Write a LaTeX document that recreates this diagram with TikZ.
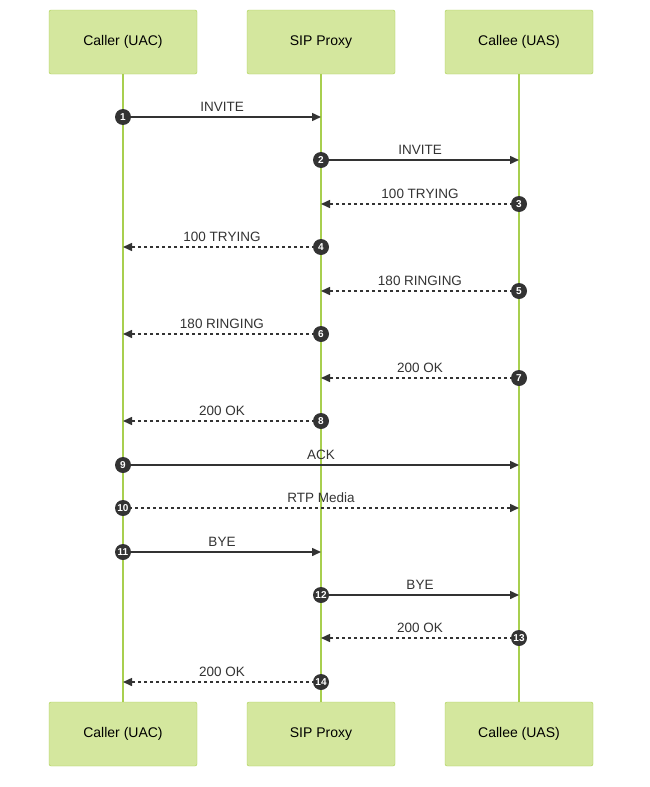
\documentclass[tikz,border=0pt]{standalone}
\usepackage{fontspec}
\setmainfont{Liberation Sans}
\usetikzlibrary{arrows.meta,positioning}
\definecolor{actfill}{HTML}{D4E79E}
\definecolor{actline}{HTML}{A8CF4F}
\definecolor{msgline}{HTML}{333333}
\begin{document}
\begin{tikzpicture}[x=1pt,y=-1pt]
	\tikzstyle{actor} = [rectangle,rounded corners=2pt,draw=actline,fill=actfill,minimum width=148pt,minimum height=64pt,font=\fontsize{14}{16}\selectfont]
	\tikzstyle{life}  = [draw=actline,line width=2pt]
	\tikzstyle{msg}   = [draw=msgline,line width=1.5pt,-{Triangle[length=9pt,width=8pt]}]
	\tikzstyle{rsp}   = [msg,dash pattern=on 3pt off 3pt]
	\tikzstyle{num}   = [circle,fill=msgline,text=white,inner sep=0pt,minimum size=16pt,font=\fontsize{10}{11}\selectfont\bfseries]
	\tikzstyle{lbl}   = [font=\fontsize{13.5}{15}\selectfont,text=msgline]

	\useasboundingbox (0,0) rectangle (650,787);

	\node[actor] (a1) at (123,42) {Caller (UAC)};
	\node[actor] (a2) at (321,42) {SIP Proxy};
	\node[actor] (a3) at (519,42) {Callee (UAS)};
	\node[actor] (b1) at (123,734) {Caller (UAC)};
	\node[actor] (b2) at (321,734) {SIP Proxy};
	\node[actor] (b3) at (519,734) {Callee (UAS)};

	\foreach \i in {1,2,3}
		\path[life] (a\i) -- (b\i);

	% messages: number / from x / to x / y / text / style
	\foreach \n/\s/\t/\y/\txt/\st in {
		1/123/321/117/INVITE/msg,
		2/321/519/160/INVITE/msg,
		3/519/321/204/{100 TRYING}/rsp,
		4/321/123/247/{100 TRYING}/rsp,
		5/519/321/291/{180 RINGING}/rsp,
		6/321/123/334/{180 RINGING}/rsp,
		7/519/321/378/{200 OK}/rsp,
		8/321/123/421/{200 OK}/rsp,
		9/123/519/465/ACK/msg,
		10/123/519/508/{RTP Media}/rsp,
		11/123/321/552/BYE/msg,
		12/321/519/595/BYE/msg,
		13/519/321/638/{200 OK}/rsp,
		14/321/123/682/{200 OK}/rsp}
	{
		\coordinate (s\n) at (\s,\y);
		\coordinate (t\n) at (\t,\y);
		\path[\st] (s\n) -- (t\n) node[lbl,midway,above=1pt] {\txt};
		\node[num] (n\n) at (s\n) {\n};
	}
\end{tikzpicture}
\end{document}
